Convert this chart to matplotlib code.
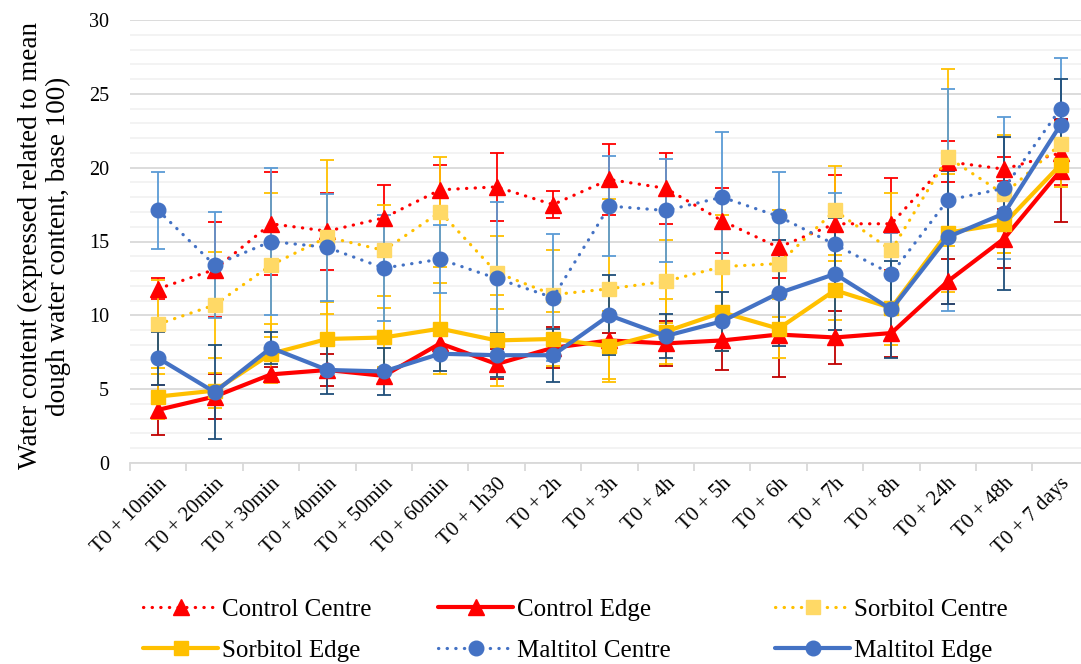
import matplotlib
matplotlib.use("Agg")
from matplotlib import pyplot as plt
import numpy as np

categories = ["T0 + 10min", "T0 + 20min", "T0 + 30min", "T0 + 40min", "T0 + 50min",
              "T0 + 60min", "T0 + 1h30", "T0 + 2h", "T0 + 3h", "T0 + 4h", "T0 + 5h",
              "T0 + 6h", "T0 + 7h", "T0 + 8h", "T0 + 24h", "T0 + 48h", "T0 + 7 days"]

control_centre = [11.8, 13.1, 16.2, 15.7, 16.6, 18.5, 18.7, 17.5, 19.2, 18.6, 16.4, 14.6, 16.2, 16.2, 20.4, 19.9, 21.0]
control_centre_err = [0.7, 3.2, 3.5, 2.6, 2.2, 1.7, 2.3, 0.9, 2.4, 2.4, 2.2, 2.1, 3.3, 3.1, 1.4, 0.8, 2.2]

control_edge = [3.6, 4.5, 6.0, 6.3, 5.9, 8.1, 6.7, 7.8, 8.3, 8.1, 8.3, 8.7, 8.5, 8.8, 12.3, 15.2, 19.8]
control_edge_err = [1.7, 1.5, 0.5, 1.1, 0.5, 0.5, 1.0, 1.4, 0.5, 1.5, 2.0, 2.9, 1.8, 1.6, 1.5, 2.0, 3.5]

sorbitol_centre = [9.4, 10.7, 13.4, 15.3, 14.4, 17.0, 12.9, 11.4, 11.8, 12.3, 13.3, 13.5, 17.1, 14.4, 20.7, 18.2, 21.6]
sorbitol_centre_err = [3.0, 3.6, 4.9, 5.2, 3.1, 3.7, 2.5, 3.0, 6.1, 2.8, 3.5, 3.6, 3.0, 3.9, 6.0, 4.0, 1.5]

sorbitol_edge = [4.5, 4.9, 7.4, 8.4, 8.5, 9.1, 8.3, 8.4, 7.9, 8.9, 10.2, 9.1, 11.7, 10.5, 15.6, 16.2, 20.2]
sorbitol_edge_err = [1.5, 1.2, 2.0, 2.5, 2.0, 3.1, 3.1, 1.8, 2.4, 2.2, 2.6, 2.0, 2.0, 2.5, 4.0, 2.0, 1.5]

maltitol_centre = [17.1, 13.4, 15.0, 14.6, 13.2, 13.8, 12.5, 11.2, 17.4, 17.1, 18.0, 16.7, 14.8, 12.8, 17.8, 18.6, 24.0]
maltitol_centre_err = [2.6, 3.6, 5.0, 3.6, 3.6, 2.3, 5.2, 4.3, 3.4, 3.5, 4.4, 3.0, 3.5, 2.8, 7.5, 4.8, 3.4]

maltitol_edge = [7.1, 4.8, 7.8, 6.3, 6.2, 7.4, 7.3, 7.3, 10.0, 8.6, 9.6, 11.5, 12.8, 10.4, 15.3, 16.9, 22.9]
maltitol_edge_err = [1.8, 3.2, 1.1, 1.6, 1.6, 1.2, 1.5, 1.8, 2.7, 1.5, 2.0, 3.6, 3.8, 3.3, 4.5, 5.2, 3.1]

plt.rcParams['font.family'] = ['Liberation Serif', 'DejaVu Serif']

fig = plt.figure(figsize=(10.81, 6.64), dpi=100)
ax = fig.add_axes([130 / 1081, 1 - 463 / 664, 958.7 / 1081, 443 / 664])

x = np.arange(len(categories))
dotted = (0, (0.1, 2.6))

series = [
    ("Control Centre", control_centre, control_centre_err, "#FF0000", "#FF0000", "#FF0000", "^", 11, dotted, 2.3),
    ("Control Edge", control_edge, control_edge_err, "#FF0000", "#FF0000", "#C00000", "^", 11, "-", 3.0),
    ("Sorbitol Centre", sorbitol_centre, sorbitol_centre_err, "#FFC000", "#FFD966", "#FFC000", "s", 9.5, dotted, 2.3),
    ("Sorbitol Edge", sorbitol_edge, sorbitol_edge_err, "#FFC000", "#FFC000", "#FFC000", "s", 9.5, "-", 3.0),
    ("Maltitol Centre", maltitol_centre, maltitol_centre_err, "#4472C4", "#4472C4", "#5B9BD5", "o", 10.5, dotted, 2.3),
    ("Maltitol Edge", maltitol_edge, maltitol_edge_err, "#4472C4", "#4472C4", "#1F4E79", "o", 10.5, "-", 3.0),
]

handles = {}
for i, (name, vals, err, lc, mc, ec, mk, ms, ls, lw) in enumerate(series):
    ax.errorbar(x, vals, yerr=err, fmt="none", ecolor=ec, elinewidth=1.3,
                capsize=5, capthick=1.3, zorder=2 + i * 0.1)
    line, = ax.plot(x, vals, color=lc, linestyle=ls, linewidth=lw,
                    dash_capstyle="round", solid_capstyle="round",
                    marker=mk, markersize=ms, markerfacecolor=mc,
                    markeredgecolor=mc, label=name, zorder=3 + i * 0.1)
    handles[name] = line

ax.set_xlim(-0.5, len(categories) - 0.5)
ax.set_ylim(0, 30)
ax.set_yticks(range(0, 31, 5))
ax.set_yticks(range(0, 31, 1), minor=True)
ax.grid(axis="y", which="major", color="#D9D9D9", linewidth=1.3, zorder=0)
ax.grid(axis="y", which="minor", color="#F2F2F2", linewidth=1.3, zorder=0)
ax.set_axisbelow(True)

ax.set_xticks(x)
ax.set_xticklabels(categories, rotation=45, ha="right", rotation_mode="anchor", fontsize=15)
ax.set_xticks(np.arange(-0.5, len(categories), 1), minor=True)
ax.tick_params(axis="x", which="major", length=0, pad=8)
ax.tick_params(axis="x", which="minor", length=6, color="#D9D9D9", width=1.3)
ax.tick_params(axis="y", which="both", length=0, pad=15, labelsize=14.5)

for s in ["top", "right", "left"]:
    ax.spines[s].set_visible(False)
ax.spines["bottom"].set_color("#D9D9D9")
ax.spines["bottom"].set_linewidth(1.3)

ax.set_ylabel("Water content (expressed related to mean\ndough water content, base 100)",
              fontsize=19.5, linespacing=1.15)
ax.yaxis.set_label_coords(-0.062, 0.49)

# legend: three columns placed like the original
columns = [(["Control Centre", "Sorbitol Edge"], 143),
           (["Control Edge", "Maltitol Centre"], 438),
           (["Sorbitol Centre", "Maltitol Edge"], 775)]
for names, xpix in columns:
    leg = fig.legend([handles[n] for n in names], names, loc="center left",
                     bbox_to_anchor=(xpix / 1081, 1 - 630 / 664),
                     frameon=False, fontsize=18, handlelength=3.0,
                     labelspacing=0.74, handletextpad=0.16,
                     borderpad=0, borderaxespad=0)

fig.savefig("out.png", dpi=100)
